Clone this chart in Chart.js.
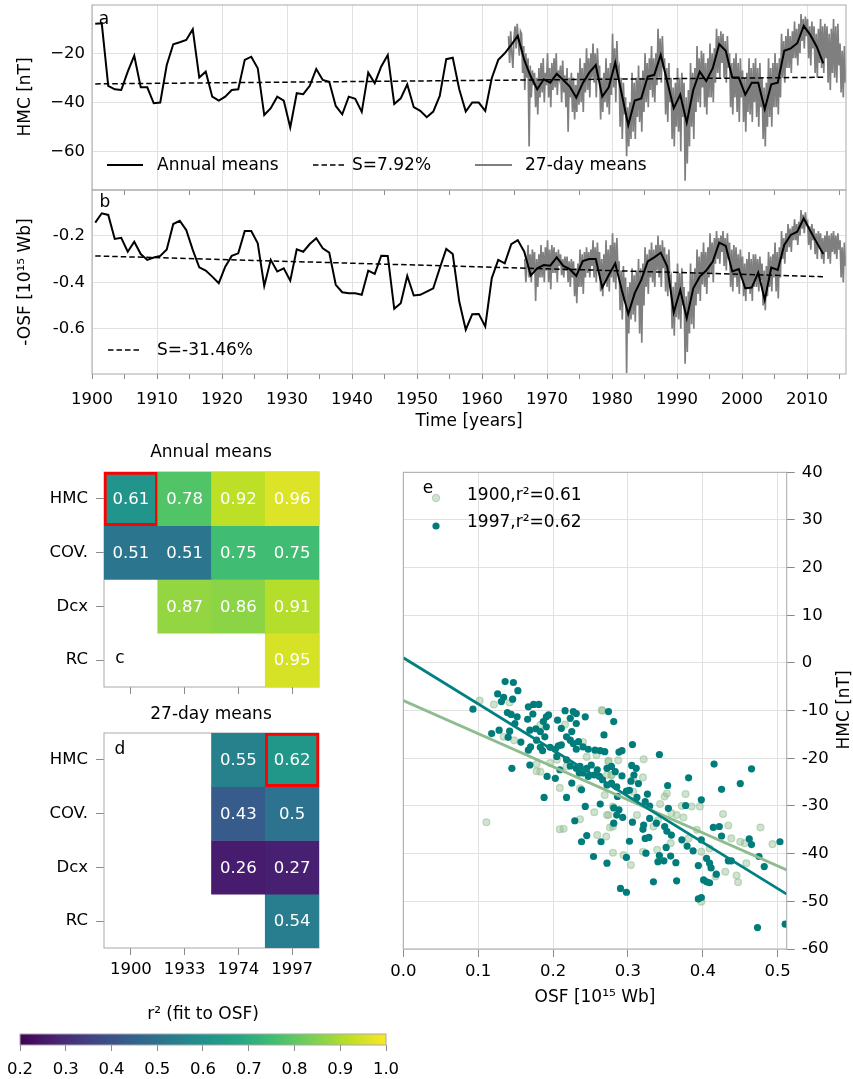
<!DOCTYPE html>
<html>
<head>
<meta charset="utf-8">
<title>HMC and OSF</title>
<script src="https://cdn.jsdelivr.net/npm/chart.js@4.4.1/dist/chart.umd.min.js"></script>
<style>
  body { margin: 0; background: #fff; }
  #fig { position: relative; width: 853px; height: 1079px; overflow: hidden; background: #fff; }
  #fig canvas { position: absolute; }
</style>
</head>
<body>
<div id="fig"></div>
<script>
// ---------------- data ----------------
// annual means, first value is 1900 (plotted at mid-year)
const annualStart = 1900;
const hmcAnnual = [
  -8.0, -7.8, -33.3, -34.7, -35.0, -27.5, -21.0, -33.9, -33.9, -40.4,
  -40.1, -24.8, -16.3, -15.5, -14.6, -10.2, -29.9, -27.5, -37.7, -39.3,
  -37.7, -35.0, -34.7, -22.7, -21.4, -26.1, -45.2, -42.4, -37.7, -39.3,
  -50.3, -36.3, -36.7, -33.3, -26.4, -30.9, -31.6, -41.5, -44.9, -37.7,
  -38.6, -43.9, -27.9, -32.2, -25.4, -20.7, -40.7, -38.4, -32.7, -42.0,
  -43.5, -46.1, -43.8, -37.4, -22.4, -21.8, -34.7, -43.8, -40.1, -40.1,
  -43.5, -30.2, -22.7, -20.0, -16.6, -12.9, -22.7, -29.5, -34.7, -30.6,
  -32.0, -28.4, -30.9, -33.6, -38.1, -32.2, -27.9, -24.8, -37.7, -33.9,
  -23.8, -36.7, -49.3, -39.3, -38.4, -29.5, -28.8, -20.7, -31.6, -42.4,
  -36.9, -48.3, -35.0, -27.5, -31.3, -26.1, -16.3, -19.0, -29.9, -29.9,
  -36.9, -32.0, -32.0, -42.8, -32.7, -32.0, -19.0, -18.0, -15.9, -8.8,
  -12.5, -17.3, -24.1
];
const osfAnnual = [
  -0.144, -0.104, -0.111, -0.214, -0.209, -0.269, -0.226, -0.279, -0.304, -0.294,
  -0.287, -0.259, -0.150, -0.136, -0.176, -0.261, -0.336, -0.350, -0.376, -0.404,
  -0.333, -0.287, -0.276, -0.180, -0.180, -0.233, -0.416, -0.304, -0.354, -0.340,
  -0.393, -0.259, -0.269, -0.236, -0.211, -0.254, -0.273, -0.411, -0.443, -0.447,
  -0.447, -0.454, -0.350, -0.364, -0.286, -0.287, -0.514, -0.490, -0.373, -0.457,
  -0.454, -0.440, -0.426, -0.340, -0.257, -0.279, -0.483, -0.604, -0.537, -0.536,
  -0.590, -0.383, -0.304, -0.319, -0.237, -0.219, -0.269, -0.371, -0.340, -0.326,
  -0.329, -0.293, -0.330, -0.344, -0.373, -0.309, -0.300, -0.300, -0.423, -0.369,
  -0.319, -0.433, -0.536, -0.447, -0.390, -0.311, -0.293, -0.273, -0.333, -0.530,
  -0.433, -0.554, -0.426, -0.376, -0.350, -0.311, -0.230, -0.244, -0.354, -0.343,
  -0.426, -0.423, -0.359, -0.476, -0.337, -0.347, -0.240, -0.197, -0.183, -0.126,
  -0.179, -0.230, -0.279
];
const trendYears = [1900.5, 2012.5];
const hmcTrend = [-32.5, -29.8];
const osfTrend = [-0.287, -0.376];

// 27-day means, six values per year
const hmc27Start = 1964;
const hmc27 = [
  -13, -24, -11, -20, -26, -14,
  -9, -18, -8, -15, -21, -11,
  -12, -28, -17, -35, -20, -30,
  -22, -58, -25, -38, -27, -33,
  -28, -42, -30, -45, -26, -38,
  -24, -36, -22, -40, -28, -33,
  -20, -38, -26, -42, -24, -35,
  -22, -34, -20, -37, -27, -30,
  -25, -40, -23, -36, -29, -42,
  -26, -52, -30, -38, -28, -44,
  -30, -47, -33, -44, -28, -41,
  -22, -40, -26, -44, -24, -36,
  -18, -35, -22, -38, -20, -30,
  -16, -32, -20, -38, -18, -29,
  -25, -47, -30, -44, -28, -40,
  -22, -42, -26, -45, -24, -37,
  -12, -34, -18, -40, -15, -28,
  -26, -50, -30, -55, -32, -45,
  -38, -62, -42, -58, -40, -55,
  -28, -52, -32, -55, -30, -46,
  -25, -48, -30, -52, -27, -44,
  -20, -40, -24, -42, -22, -35,
  -17, -38, -22, -40, -20, -33,
  -10, -30, -14, -32, -13, -26,
  -22, -45, -26, -48, -24, -40,
  -30, -55, -34, -58, -32, -50,
  -26, -52, -30, -60, -28, -46,
  -32, -72, -38, -65, -35, -58,
  -24, -50, -28, -55, -26, -44,
  -17, -40, -22, -42, -19, -34,
  -20, -42, -24, -45, -22, -38,
  -16, -38, -20, -40, -18, -32,
  -10, -28, -13, -30, -11, -24,
  -12, -30, -15, -32, -13, -26,
  -20, -42, -24, -45, -22, -38,
  -20, -44, -24, -48, -22, -38,
  -27, -48, -30, -52, -28, -44,
  -22, -45, -26, -48, -24, -40,
  -22, -46, -26, -50, -24, -42,
  -30, -55, -34, -58, -32, -50,
  -22, -46, -26, -50, -24, -42,
  -20, -42, -24, -45, -22, -38,
  -12, -30, -15, -32, -13, -26,
  -10, -26, -13, -28, -11, -22,
  -7, -22, -10, -25, -8, -20,
  -4, -15, -6, -18, -5, -13,
  -6, -22, -9, -25, -7, -18,
  -9, -28, -12, -30, -10, -24,
  -6, -26, -9, -28, -8, -22,
  -9, -32, -12, -35, -10, -28,
  -6, -30, -9, -32, -8, -25,
  -16, -36, -19, -38, -17, -32
];
const osf27Start = 1966;
const osf27 = [
  null, null, null, -0.30, -0.40, -0.33,
  -0.24, -0.38, -0.28, -0.40, -0.26, -0.35,
  -0.27, -0.48, -0.30, -0.42, -0.28, -0.38,
  -0.24, -0.38, -0.27, -0.40, -0.25, -0.35,
  -0.22, -0.40, -0.26, -0.43, -0.24, -0.36,
  -0.25, -0.36, -0.27, -0.40, -0.26, -0.33,
  -0.28, -0.37, -0.30, -0.38, -0.29, -0.35,
  -0.29, -0.40, -0.31, -0.42, -0.30, -0.38,
  -0.31, -0.46, -0.34, -0.49, -0.32, -0.42,
  -0.26, -0.42, -0.28, -0.45, -0.27, -0.38,
  -0.25, -0.36, -0.27, -0.38, -0.26, -0.33,
  -0.22, -0.38, -0.25, -0.40, -0.23, -0.34,
  -0.27, -0.44, -0.30, -0.46, -0.28, -0.40,
  -0.22, -0.42, -0.26, -0.44, -0.24, -0.38,
  -0.19, -0.40, -0.23, -0.43, -0.21, -0.35,
  -0.31, -0.52, -0.35, -0.56, -0.33, -0.48,
  -0.38, -0.79, -0.42, -0.62, -0.40, -0.56,
  -0.34, -0.54, -0.37, -0.57, -0.35, -0.50,
  -0.30, -0.62, -0.34, -0.66, -0.32, -0.50,
  -0.25, -0.42, -0.28, -0.45, -0.26, -0.38,
  -0.23, -0.40, -0.26, -0.42, -0.24, -0.35,
  -0.20, -0.38, -0.24, -0.42, -0.22, -0.34,
  -0.25, -0.44, -0.28, -0.46, -0.26, -0.40,
  -0.38, -0.60, -0.42, -0.63, -0.40, -0.55,
  -0.32, -0.56, -0.36, -0.60, -0.34, -0.50,
  -0.42, -0.75, -0.46, -0.70, -0.44, -0.62,
  -0.32, -0.58, -0.36, -0.60, -0.34, -0.50,
  -0.26, -0.45, -0.29, -0.48, -0.27, -0.41,
  -0.23, -0.42, -0.27, -0.45, -0.25, -0.38,
  -0.19, -0.36, -0.23, -0.40, -0.21, -0.32,
  -0.18, -0.30, -0.21, -0.32, -0.20, -0.27,
  -0.18, -0.33, -0.21, -0.35, -0.19, -0.30,
  -0.23, -0.42, -0.26, -0.44, -0.24, -0.38,
  -0.25, -0.42, -0.28, -0.45, -0.26, -0.38,
  -0.29, -0.46, -0.32, -0.48, -0.30, -0.43,
  -0.27, -0.45, -0.30, -0.48, -0.28, -0.42,
  -0.28, -0.42, -0.30, -0.44, -0.29, -0.39,
  -0.32, -0.50, -0.35, -0.52, -0.33, -0.46,
  -0.27, -0.42, -0.29, -0.44, -0.28, -0.38,
  -0.23, -0.44, -0.27, -0.47, -0.25, -0.38,
  -0.18, -0.30, -0.21, -0.32, -0.19, -0.27,
  -0.15, -0.25, -0.17, -0.27, -0.16, -0.22,
  -0.13, -0.22, -0.15, -0.24, -0.14, -0.20,
  -0.09, -0.17, -0.11, -0.19, -0.10, -0.15,
  -0.14, -0.24, -0.16, -0.26, -0.15, -0.22,
  -0.17, -0.28, -0.19, -0.30, -0.18, -0.25,
  -0.19, -0.30, -0.21, -0.32, -0.20, -0.27,
  -0.18, -0.30, -0.20, -0.32, -0.19, -0.27,
  -0.18, -0.28, -0.20, -0.30, -0.19, -0.26,
  -0.22, -0.38, -0.25, -0.40, -0.23, -0.33
];
const timeTicks = [1900, 1905, 1910, 1915, 1920, 1925, 1930, 1935, 1940, 1945, 1950, 1955,
                   1960, 1965, 1970, 1975, 1980, 1985, 1990, 1995, 2000, 2005, 2010, 2015];
const hmcTicks = [-60, -40, -20];
const osfTicks = [-0.6, -0.4, -0.2];

// r^2 tables (rows x start years), null = no value
const heatRows = ['HMC', 'COV.', 'Dcx', 'RC'];
const heatYears = ['1900', '1933', '1974', '1997'];
const r2Annual = [
  [0.61, 0.78, 0.92, 0.96],
  [0.51, 0.51, 0.75, 0.75],
  [null, 0.87, 0.86, 0.91],
  [null, null, null, 0.95]
];
const r2Day = [
  [null, null, 0.55, 0.62],
  [null, null, 0.43, 0.5],
  [null, null, 0.26, 0.27],
  [null, null, null, 0.54]
];
const boxAnnual = [0, 0];
const boxDay = [0, 3];
const CB_MIN = 0.2, CB_MAX = 1.0;
const cbTicks = [0.2, 0.3, 0.4, 0.5, 0.6, 0.7, 0.8, 0.9, 1.0];

// scatter: [OSF, HMC]
const pts1900 = [
  [0.102, -7.9], [0.121, -8.7], [0.142, -8.3], [0.183, -13.0], [0.216, -12.9], [0.148, -16.2],
  [0.134, -15.5], [0.266, -10.0], [0.240, -16.6], [0.274, -20.5], [0.278, -23.5], [0.178, -21.2],
  [0.178, -22.7], [0.209, -26.2], [0.236, -26.3], [0.269, -27.7], [0.255, -31.3], [0.272, -31.9],
  [0.280, -30.1], [0.236, -32.8], [0.209, -34.9], [0.214, -34.8], [0.259, -36.1], [0.276, -34.5],
  [0.280, -39.8], [0.111, -33.4], [0.218, -21.7], [0.205, -20.3], [0.183, -22.8], [0.196, -21.0],
  [0.245, -19.7], [0.258, -19.3], [0.265, -9.9], [0.274, -20.7], [0.287, -20.4], [0.272, -23.5],
  [0.278, -23.5], [0.321, -20.2], [0.320, -24.0], [0.307, -24.3], [0.352, -27.4], [0.377, -27.5],
  [0.349, -28.0], [0.343, -29.6], [0.372, -30.0], [0.385, -30.1], [0.365, -31.9], [0.374, -32.4],
  [0.358, -31.5], [0.312, -31.9], [0.274, -31.9], [0.280, -34.3], [0.271, -36.4], [0.427, -31.7],
  [0.434, -34.1], [0.477, -34.5], [0.493, -38.0], [0.450, -37.5], [0.438, -36.8], [0.456, -37.8],
  [0.458, -42.0], [0.445, -44.6], [0.447, -46.0], [0.430, -43.8], [0.417, -44.8], [0.398, -50.1],
  [0.357, -37.8], [0.339, -39.2], [0.304, -42.4], [0.294, -40.3], [0.320, -39.6], [0.334, -34.3],
  [0.340, -33.0], [0.307, -27.0], [0.396, -30.1], [0.392, -35.0], [0.381, -36.8], [0.409, -38.9],
  [0.398, -39.6]
];
const pts1997 = [
  [0.093, -9.7], [0.136, -3.9], [0.147, -4.1], [0.153, -5.8], [0.126, -6.5], [0.134, -7.2],
  [0.131, -8.1], [0.146, -7.6], [0.167, -9.2], [0.174, -8.7], [0.181, -8.7], [0.139, -10.4],
  [0.144, -10.8], [0.152, -11.3], [0.173, -10.7], [0.166, -11.8], [0.149, -12.7], [0.142, -14.3],
  [0.128, -14.1], [0.118, -14.8], [0.140, -15.6], [0.157, -16.6], [0.169, -14.1], [0.177, -13.8],
  [0.183, -14.4], [0.191, -11.3], [0.194, -10.9], [0.187, -12.3], [0.191, -13.4], [0.189, -15.5],
  [0.178, -16.2], [0.170, -17.6], [0.167, -18.3], [0.183, -17.7], [0.186, -18.4], [0.196, -17.7],
  [0.203, -18.1], [0.207, -17.4], [0.211, -17.2], [0.206, -12.0], [0.216, -10.0], [0.227, -10.2],
  [0.231, -10.6], [0.223, -11.6], [0.231, -12.7], [0.243, -11.3], [0.211, -13.7], [0.225, -14.4],
  [0.218, -15.5], [0.223, -16.2], [0.227, -16.9], [0.234, -16.5], [0.231, -18.1], [0.240, -17.6],
  [0.247, -18.1], [0.256, -18.3], [0.263, -18.4], [0.269, -18.6], [0.274, -10.2], [0.281, -12.3],
  [0.268, -15.1], [0.145, -22.1], [0.169, -21.4], [0.192, -23.8], [0.203, -24.2], [0.209, -22.4],
  [0.205, -19.6], [0.218, -20.3], [0.223, -21.6], [0.231, -22.1], [0.236, -21.7], [0.245, -22.1],
  [0.251, -21.4], [0.259, -22.4], [0.272, -22.1], [0.278, -21.7], [0.283, -22.8], [0.235, -23.1],
  [0.240, -23.1], [0.247, -23.8], [0.255, -23.5], [0.262, -23.8], [0.266, -24.5], [0.272, -25.6],
  [0.278, -25.2], [0.285, -26.0], [0.225, -25.2], [0.238, -26.6], [0.188, -28.2], [0.218, -28.2],
  [0.243, -30.1], [0.263, -29.6], [0.281, -30.4], [0.229, -33.1], [0.245, -36.2], [0.238, -37.5],
  [0.264, -37.5], [0.281, -33.6], [0.285, -31.9], [0.254, -40.6],
  [0.288, -18.7], [0.292, -18.4], [0.306, -17.1], [0.342, -19.2], [0.305, -21.5], [0.311, -22.1],
  [0.308, -23.5], [0.292, -23.7], [0.304, -24.8], [0.314, -25.3], [0.286, -28.0], [0.298, -26.9],
  [0.302, -26.7], [0.312, -28.2], [0.323, -29.1], [0.326, -27.5], [0.329, -30.0], [0.353, -25.7],
  [0.381, -24.1], [0.415, -21.2], [0.465, -22.2], [0.450, -25.3], [0.425, -26.5], [0.398, -28.7],
  [0.377, -29.9], [0.354, -30.5], [0.288, -30.8], [0.293, -32.4], [0.306, -33.4], [0.321, -34.0],
  [0.320, -34.9], [0.338, -33.6], [0.329, -32.6], [0.349, -34.3], [0.352, -35.3], [0.358, -36.1],
  [0.372, -37.1], [0.379, -38.4], [0.387, -39.4], [0.398, -37.1], [0.414, -34.5], [0.422, -34.3],
  [0.425, -36.3], [0.462, -36.9], [0.465, -38.1], [0.475, -40.6], [0.482, -42.7], [0.503, -37.5],
  [0.434, -41.5], [0.438, -41.5], [0.405, -41.0], [0.409, -42.0], [0.411, -43.0], [0.394, -42.5],
  [0.418, -44.3], [0.401, -45.5], [0.405, -45.9], [0.409, -46.1], [0.394, -49.5], [0.398, -49.2],
  [0.365, -45.7], [0.334, -45.9], [0.302, -37.4], [0.298, -40.8], [0.272, -42.0], [0.323, -36.8],
  [0.328, -36.6], [0.324, -39.9], [0.342, -40.4], [0.340, -41.7], [0.348, -41.5], [0.357, -40.5],
  [0.364, -41.9], [0.351, -38.7], [0.473, -55.5], [0.510, -54.8], [0.290, -47.3], [0.298, -48.1]
];
const fitX = [0, 0.512];
const fit1900 = [-7.9, -43.4];
const fit1997 = [1.1, -48.5];
const osfScatterTicks = [0, 0.1, 0.2, 0.3, 0.4, 0.5];
const hmcScatterTicks = [-60, -50, -40, -30, -20, -10, 0, 10, 20, 30, 40];

// ---------------- styling ----------------
Chart.defaults.font.family = "'DejaVu Sans', sans-serif";
Chart.defaults.font.size = 16.5;
Chart.defaults.color = '#000';
Chart.defaults.animation = false;
Chart.defaults.events = [];
Chart.defaults.plugins.legend.display = false;
Chart.defaults.plugins.tooltip.enabled = false;

const FONT = "17px 'DejaVu Sans', sans-serif";
const CELL_FONT = "16.5px 'DejaVu Sans', sans-serif";
const GRID = '#e1e1e1', SPINE = '#a9a9a9', TICK = '#8a8a8a';
const TEAL = '#007d7b', SAGE = '#8fbc8f', SAGE_A = 'rgba(143,188,143,0.42)';
const VIRIDIS = ['#440154', '#482475', '#414487', '#355f8d', '#2a788e', '#21918c',
                 '#22a884', '#44bf70', '#7ad151', '#bddf26', '#fde725'];

function hexRgb(h) { return [1, 3, 5].map(i => parseInt(h.substr(i, 2), 16)); }
function viridis(v) {
  let t = (v - CB_MIN) / (CB_MAX - CB_MIN);
  t = Math.max(0, Math.min(1, t));
  const p = t * 10, i = Math.min(9, Math.floor(p)), f = p - i;
  const a = hexRgb(VIRIDIS[i]), b = hexRgb(VIRIDIS[i + 1]);
  return 'rgb(' + a.map((c, k) => Math.round(c + (b[k] - c) * f)).join(',') + ')';
}

// pin an axis to a fixed thickness so the plot areas land where the figure has them
function fixSize(size) {
  return s => {
    if (s.isHorizontal()) s.height = size; else s.width = size;
    s.paddingLeft = s.paddingRight = s.paddingTop = s.paddingBottom = 0;
  };
}
function setTicks(list) { return s => { s.ticks = list.map(v => ({ value: v })); }; }

// frame, legend samples and free text, written in page coordinates
function overlay(box, spec) {
  const frame = chart => {
    const a = chart.chartArea, ctx = chart.ctx;
    ctx.save();
    ctx.strokeStyle = SPINE; ctx.lineWidth = 1;
    ctx.strokeRect(a.left, a.top, a.right - a.left, a.bottom - a.top);
    ctx.restore();
  };
  return {
    id: 'overlay',
    beforeDatasetsDraw(chart) { if (spec.frameUnder) frame(chart); },
    afterDraw(chart) {
      const ctx = chart.ctx;
      if (spec.frame) frame(chart);
      ctx.save();
      ctx.translate(-box.l, -box.t);
      (spec.lines || []).forEach(l => {
        ctx.beginPath();
        ctx.strokeStyle = l.color; ctx.lineWidth = l.w;
        ctx.setLineDash(l.dash || []);
        ctx.moveTo(l.x1, l.y); ctx.lineTo(l.x2, l.y); ctx.stroke();
      });
      ctx.setLineDash([]);
      (spec.dots || []).forEach(d => {
        ctx.beginPath();
        ctx.arc(d.x, d.y, 3.6, 0, Math.PI * 2);
        ctx.fillStyle = d.fill; ctx.fill();
        if (d.stroke) { ctx.strokeStyle = d.stroke; ctx.lineWidth = 1.2; ctx.stroke(); }
      });
      (spec.texts || []).forEach(t => {
        ctx.save();
        ctx.font = t.font || FONT;
        ctx.fillStyle = '#000';
        ctx.textAlign = t.align || 'center';
        ctx.textBaseline = 'middle';
        ctx.translate(t.x, t.y);
        if (t.rot) ctx.rotate(t.rot * Math.PI / 180);
        ctx.fillText(t.t, 0, 0);
        ctx.restore();
      });
      ctx.restore();
    }
  };
}

function addChart(box, config, spec) {
  const cv = document.createElement('canvas');
  cv.width = box.w; cv.height = box.h;
  cv.style.left = box.l + 'px'; cv.style.top = box.t + 'px';
  document.getElementById('fig').appendChild(cv);
  config.options.responsive = false;
  config.plugins = (config.plugins || []).concat([overlay(box, spec)]);
  return new Chart(cv, config);
}

const major10 = c => (c.tick && Math.round(c.tick.value) % 10 === 0) ? GRID : 'rgba(0,0,0,0)';
const yearly = (start, vals) => vals.map((v, i) => ({ x: start + (i + 0.5) / 6, y: v }));
const annualPts = vals => vals.map((v, i) => ({ x: annualStart + i + 0.5, y: v }));
const trendPts = vals => vals.map((v, i) => ({ x: trendYears[i], y: v }));

function timeSeries(annual, trend, start27, vals27) {
  return [
    { data: annualPts(annual), borderColor: '#000', borderWidth: 2, pointRadius: 0 },
    { data: trendPts(trend), borderColor: '#000', borderWidth: 1.5, borderDash: [5.5, 3], pointRadius: 0 },
    { data: yearly(start27, vals27), borderColor: '#7f7f7f', borderWidth: 1.7, pointRadius: 0, spanGaps: false }
  ];
}

// ---------------- panel a ----------------
addChart({ l: 0, t: 0, w: 853, h: 200 }, {
  type: 'line',
  data: { datasets: timeSeries(hmcAnnual, hmcTrend, hmc27Start, hmc27) },
  options: {
    layout: { padding: { left: 0, top: 5, right: 7, bottom: 0 } },
    scales: {
      x: { type: 'linear', min: 1900, max: 2016, afterBuildTicks: setTicks(timeTicks), afterFit: fixSize(10),
           ticks: { display: false }, border: { display: false },
           grid: { color: major10, tickColor: TICK, tickLength: 5 } },
      y: { min: -75.8, max: -0.3, afterBuildTicks: setTicks(hmcTicks), afterFit: fixSize(92),
           ticks: { padding: 7, callback: v => '\u2212' + Math.abs(v) }, border: { display: false },
           grid: { color: GRID, drawTicks: false } }
    }
  }
}, {
  frame: true,
  lines: [
    { x1: 107, x2: 143, y: 165, color: '#000', w: 2 },
    { x1: 313, x2: 347, y: 165, color: '#000', w: 1.5, dash: [5.5, 3] },
    { x1: 475, x2: 512, y: 165, color: '#7f7f7f', w: 2 }
  ],
  texts: [
    { t: 'Annual means', x: 157, y: 166, align: 'left' },
    { t: 'S=7.92%', x: 352, y: 166, align: 'left' },
    { t: '27-day means', x: 525, y: 166, align: 'left' },
    { t: 'a', x: 104, y: 20 },
    { t: 'HMC [nT]', x: 26, y: 97, rot: -90 }
  ]
});

// ---------------- panel b ----------------
addChart({ l: 0, t: 185, w: 853, h: 250 }, {
  type: 'line',
  data: { datasets: timeSeries(osfAnnual, osfTrend, osf27Start, osf27) },
  options: {
    layout: { padding: { left: 0, top: 5, right: 7, bottom: 0 } },
    scales: {
      x: { type: 'linear', min: 1900, max: 2016, afterBuildTicks: setTicks(timeTicks), afterFit: fixSize(61),
           ticks: { padding: 11, maxRotation: 0, autoSkip: false, callback: v => (v % 10 === 0 ? String(v) : '') },
           border: { display: false },
           grid: { color: major10, tickColor: TICK, tickLength: 5 } },
      y: { min: -0.794, max: -0.004, afterBuildTicks: setTicks(osfTicks), afterFit: fixSize(92),
           ticks: { padding: 7, callback: v => v.toFixed(1) }, border: { display: false },
           grid: { color: GRID, drawTicks: false } }
    }
  }
}, {
  frame: true,
  lines: [{ x1: 108, x2: 142, y: 350, color: '#000', w: 1.5, dash: [5.5, 3] }],
  texts: [
    { t: 'S=-31.46%', x: 157, y: 351, align: 'left' },
    { t: 'b', x: 105, y: 203 },
    { t: '-OSF [10\u00b9\u2075 Wb]', x: 26, y: 282, rot: -90 },
    { t: 'Time [years]', x: 469, y: 422 }
  ]
});

// ---------------- heatmaps c, d ----------------
function cellLabels(values) {
  return {
    id: 'cellLabels',
    afterDatasetsDraw(chart) {
      const ctx = chart.ctx;
      ctx.save();
      ctx.font = CELL_FONT; ctx.fillStyle = '#fff';
      ctx.textAlign = 'center'; ctx.textBaseline = 'middle';
      values.forEach((row, r) => {
        const meta = chart.getDatasetMeta(r);
        row.forEach((v, c) => {
          if (v == null) return;
          const el = meta.data[c];
          ctx.fillText(String(v), el.x, (el.y + el.base) / 2 + 1);
        });
      });
      ctx.restore();
    }
  };
}

function heatmap(box, padTop, xHeight, values, boxed, showYears) {
  return addChart(box, {
    type: 'bar',
    data: {
      labels: heatYears,
      datasets: values.map((row, r) => ({
        data: row.map(v => (v == null ? null : [r - 0.5, r + 0.5])),
        backgroundColor: row.map(v => (v == null ? 'rgba(0,0,0,0)' : viridis(v))),
        borderColor: '#ff0000',
        borderWidth: row.map((v, c) => (boxed[0] === r && boxed[1] === c ? 3 : 0)),
        borderSkipped: false,
        barPercentage: 1, categoryPercentage: 1, grouped: false
      }))
    },
    options: {
      layout: { padding: { left: 0, top: padTop, right: 21, bottom: 0 } },
      scales: {
        x: { afterFit: fixSize(xHeight), border: { display: false },
             ticks: { display: showYears, padding: 5, maxRotation: 0 },
             grid: { offset: false, drawOnChartArea: false, tickColor: TICK, tickLength: 7 } },
        y: { type: 'linear', min: -0.5, max: 3.5, reverse: true, afterBuildTicks: setTicks([0, 1, 2, 3]),
             afterFit: fixSize(104), border: { display: false },
             ticks: { padding: 8, callback: v => heatRows[v] },
             grid: { drawOnChartArea: false, tickColor: TICK, tickLength: 8 } }
      }
    },
    plugins: [cellLabels(values)]
  }, box.spec);
}

const boxC = { l: 0, t: 430, w: 340, h: 270 };
boxC.spec = { frameUnder: true, texts: [{ t: 'Annual means', x: 211, y: 453 }, { t: 'c', x: 120, y: 659 }] };
heatmap(boxC, 42, 13, r2Annual, boxAnnual, false);

const boxD = { l: 0, t: 700, w: 340, h: 290 };
boxD.spec = { frameUnder: true, texts: [{ t: '27-day means', x: 211, y: 715 }, { t: 'd', x: 120, y: 750 }] };
heatmap(boxD, 33, 42, r2Day, boxDay, true);

// ---------------- colour bar ----------------
addChart({ l: 0, t: 995, w: 420, h: 84 }, {
  type: 'bar',
  data: {
    labels: ['r2'],
    datasets: [{
      data: [[CB_MIN, CB_MAX]],
      backgroundColor: c => {
        const a = c.chart.chartArea;
        if (!a) return VIRIDIS[5];
        const g = c.chart.ctx.createLinearGradient(a.left, 0, a.right, 0);
        VIRIDIS.forEach((col, i) => g.addColorStop(i / 10, col));
        return g;
      },
      borderWidth: 0, barPercentage: 1, categoryPercentage: 1
    }]
  },
  options: {
    indexAxis: 'y',
    layout: { padding: { left: 20, top: 39, right: 34, bottom: 0 } },
    scales: {
      y: { display: false },
      x: { type: 'linear', min: CB_MIN, max: CB_MAX, afterBuildTicks: setTicks(cbTicks), afterFit: fixSize(34),
           border: { display: false },
           ticks: { padding: 9, maxRotation: 0, autoSkip: false, callback: v => v.toFixed(1) },
           grid: { drawOnChartArea: false, tickColor: TICK, tickLength: 6 } }
    }
  }
}, { frame: true, texts: [{ t: 'r\u00b2 (fit to OSF)', x: 203, y: 1015 }] });

// ---------------- scatter e ----------------
const asXY = pts => pts.map(p => ({ x: p[0], y: p[1] }));
const fitPts = vals => vals.map((v, i) => ({ x: fitX[i], y: v }));
addChart({ l: 380, t: 440, w: 473, h: 600 }, {
  type: 'scatter',
  data: {
    datasets: [
      { data: fitPts(fit1997), showLine: true, borderColor: '#008080', borderWidth: 2.8, pointRadius: 0 },
      { data: fitPts(fit1900), showLine: true, borderColor: SAGE, borderWidth: 2.8, pointRadius: 0 },
      { data: asXY(pts1997), pointRadius: 3.6, pointBackgroundColor: TEAL, pointBorderWidth: 0 },
      { data: asXY(pts1900), pointRadius: 3.4, pointBackgroundColor: SAGE_A,
        pointBorderColor: 'rgba(143,188,143,0.5)', pointBorderWidth: 1.3 }
    ]
  },
  options: {
    layout: { padding: { left: 23.3, top: 32.3, right: 0, bottom: 0 } },
    scales: {
      x: { type: 'linear', min: 0, max: 0.512, afterBuildTicks: setTicks(osfScatterTicks), afterFit: fixSize(91),
           border: { display: false },
           ticks: { padding: 5, maxRotation: 0, callback: v => v.toFixed(1) },
           grid: { color: GRID, tickColor: TICK, tickLength: 8 } },
      y: { type: 'linear', position: 'right', min: -60, max: 40, afterBuildTicks: setTicks(hmcScatterTicks),
           afterFit: fixSize(66.3), border: { display: false },
           ticks: { padding: 7, callback: v => String(v) },
           grid: { color: GRID, tickColor: TICK, tickLength: 8 } }
    }
  }
}, {
  frame: true,
  dots: [
    { x: 436, y: 498, fill: SAGE_A, stroke: 'rgba(143,188,143,0.5)' },
    { x: 436, y: 526, fill: TEAL }
  ],
  texts: [
    { t: 'e', x: 428, y: 489 },
    { t: '1900,r\u00b2=0.61', x: 467, y: 496, align: 'left' },
    { t: '1997,r\u00b2=0.62', x: 467, y: 523, align: 'left' },
    { t: 'HMC [nT]', x: 845, y: 710, rot: -90 },
    { t: 'OSF [10\u00b9\u2075 Wb]', x: 595, y: 998 }
  ]
});
</script>
</body>
</html>
